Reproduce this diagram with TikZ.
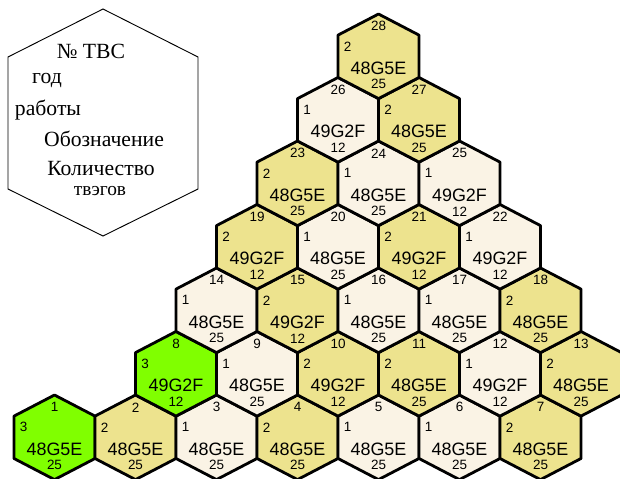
\documentclass[tikz,border=0pt]{standalone}
\usepackage{fontspec}
\setmainfont{Liberation Serif}
\newfontfamily\hexfont{Liberation Sans}
\usetikzlibrary{calc}
\definecolor{yr1}{RGB}{250,243,229}
\definecolor{yr2}{RGB}{237,227,142}
\definecolor{yr3}{RGB}{128,255,0}

\begin{document}
\begin{tikzpicture}[x=0.3mm,y=-0.3mm,
    hexline/.style={line width=2.4pt, line join=round},
    small/.style={font=\hexfont\fontsize{11.5}{13}\selectfont, inner sep=0pt},
    code/.style={font=\hexfont\fontsize{15.3}{17}\selectfont, inner sep=0pt},
    legtext/.style={font=\fontsize{18.5}{20}\selectfont, inner sep=0pt}]
    \useasboundingbox (0,0) rectangle (620,478);
    % legend
    \draw[line width=0.8pt] (103,9) -- (198,57) -- (198,189) -- (103,236) -- (8,189) -- (8,57) -- cycle;
    \node[legtext] (num) at (91,51) {№ ТВС};
    \node[legtext] (god) at (47,80) {год};
    \node[legtext] (rab) at (48,110) {работы};
    \node[legtext] (obz) at (104,139) {Обозначение};
    \node[legtext] (kol) at (101,169) {Количество};
    \node[legtext, font=\fontsize{16.5}{18}\selectfont] (tvg) at (100,191) {твэгов};
    % assemblies: number/column/row/year/type/count
    \foreach \n/\c/\r/\yr/\code/\cnt in {1/0/0/3/48G5E/25, 2/2/0/2/48G5E/25, 3/4/0/1/48G5E/25,
        4/6/0/2/48G5E/25, 5/8/0/1/48G5E/25, 6/10/0/1/48G5E/25, 7/12/0/2/48G5E/25,
        8/3/1/3/49G2F/12, 9/5/1/1/48G5E/25, 10/7/1/2/49G2F/12, 11/9/1/2/48G5E/25,
        12/11/1/1/49G2F/12, 13/13/1/2/48G5E/25,
        14/4/2/1/48G5E/25, 15/6/2/2/49G2F/12, 16/8/2/1/48G5E/25, 17/10/2/1/48G5E/25, 18/12/2/2/48G5E/25,
        19/5/3/2/49G2F/12, 20/7/3/1/48G5E/25, 21/9/3/2/49G2F/12, 22/11/3/1/49G2F/12,
        23/6/4/2/48G5E/25, 24/8/4/1/48G5E/25, 25/10/4/1/49G2F/12,
        26/7/5/1/49G2F/12, 27/9/5/2/48G5E/25,
        28/8/6/2/48G5E/25}{
        \coordinate (h\n) at ({54.5+40.5*\c},{437.3-63.5*\r});
        \draw[hexline, fill=yr\yr, shift={(h\n)}] (0,-42.3) -- (40.5,-21.2) -- (40.5,21.2) -- (0,42.3) -- (-40.5,21.2) -- (-40.5,-21.2) -- cycle;
        \node[small] (id\n) at ($(h\n)+(0,-30)$) {\n};
        \node[small] (yr\n) at ($(h\n)+(-31,-10)$) {\yr};
        \node[code] (tp\n) at ($(h\n)+(0,12)$) {\code};
        \node[small] (cnt\n) at ($(h\n)+(0,28)$) {\cnt};
    }
\end{tikzpicture}
\end{document}
